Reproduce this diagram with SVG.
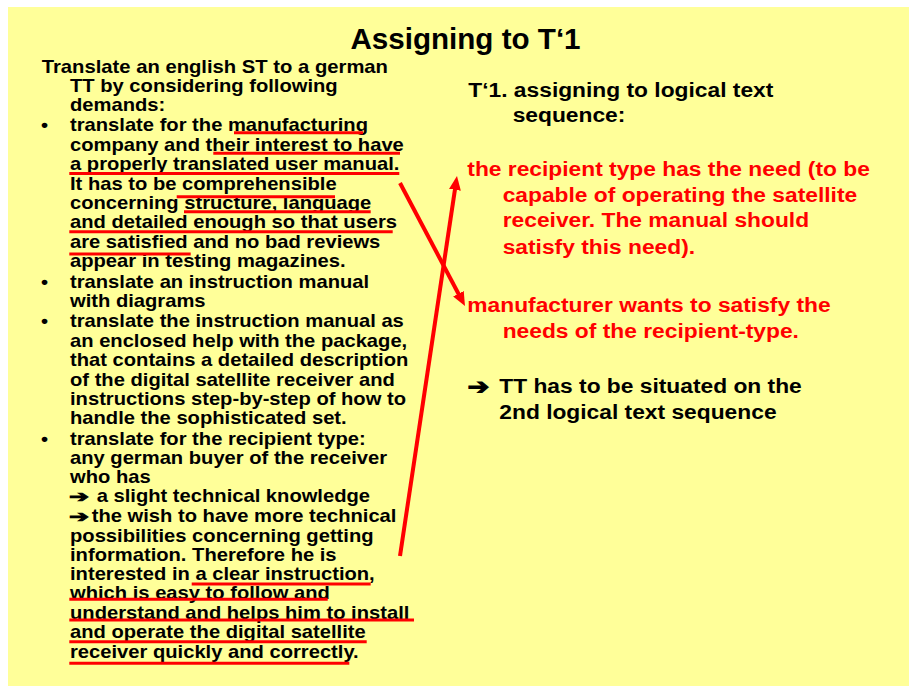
<svg xmlns="http://www.w3.org/2000/svg" width="909" height="686" viewBox="0 0 909 686">
<style>
.bg{fill:#FFFF99}
.t{font-family:"Liberation Sans",Arial,sans-serif;font-weight:bold;fill:#000}
.l{font-size:18px}
.r{font-size:21px}
.red{fill:#FF0000}
.title{font-family:"Liberation Sans",Arial,sans-serif;font-weight:bold;font-size:29.6px;fill:#000}
.sym{font-family:"DejaVu Sans",sans-serif;font-weight:bold;fill:#000;stroke:#000;stroke-width:0.9}
.ul{stroke:#FF0000;stroke-width:3;fill:none}
.conn{stroke:#FF0000;stroke-width:4;fill:none}
</style>
<defs>
<marker id="ah" viewBox="0 0 14 12" markerUnits="userSpaceOnUse" markerWidth="14" markerHeight="12" refX="4" refY="6" orient="auto">
<path d="M0,0 L14,6 L0,12 z" fill="#FF0000"/>
</marker>
</defs>
<rect class="bg" x="8" y="7" width="901" height="679"/>
<g id="title"><text class="title" x="465.5" y="49.3" text-anchor="middle">Assigning to T‘1</text></g>

<g id="left-text">
<text class="t l" transform="translate(41.7,73.3) scale(1.125,1)">Translate an english ST to a german</text>
<text class="t l" transform="translate(70,92) scale(1.12,1)">TT by considering following</text>
<text class="t l" transform="translate(70,111) scale(1.12,1)">demands:</text>
<text class="t l" transform="translate(41,131) scale(1.12,1)">•</text>
<text class="t l" transform="translate(70,131) scale(1.12,1)">translate for the manufacturing</text>
<text class="t l" transform="translate(70,150.7) scale(1.12,1)">company and their interest to have</text>
<text class="t l" transform="translate(70,170) scale(1.12,1)">a properly translated user manual.</text>
<text class="t l" transform="translate(70,190) scale(1.12,1)">It has to be comprehensible</text>
<text class="t l" transform="translate(70,209.3) scale(1.12,1)">concerning structure, language</text>
<text class="t l" transform="translate(70,228.3) scale(1.12,1)">and detailed enough so that users</text>
<text class="t l" transform="translate(70,247.7) scale(1.12,1)">are satisfied and no bad reviews</text>
<text class="t l" transform="translate(70,266.7) scale(1.12,1)">appear in testing magazines.</text>
<text class="t l" transform="translate(41,288.3) scale(1.12,1)">•</text>
<text class="t l" transform="translate(70,288.3) scale(1.12,1)">translate an instruction manual</text>
<text class="t l" transform="translate(70,306.7) scale(1.12,1)">with diagrams</text>
<text class="t l" transform="translate(41,327.3) scale(1.12,1)">•</text>
<text class="t l" transform="translate(70,327.3) scale(1.12,1)">translate the instruction manual as</text>
<text class="t l" transform="translate(70,346.7) scale(1.12,1)">an enclosed help with the package,</text>
<text class="t l" transform="translate(70,366.3) scale(1.12,1)">that contains a detailed description</text>
<text class="t l" transform="translate(70,385.7) scale(1.12,1)">of the digital satellite receiver and</text>
<text class="t l" transform="translate(70,405) scale(1.12,1)">instructions step-by-step of how to</text>
<text class="t l" transform="translate(70,424.3) scale(1.12,1)">handle the sophisticated set.</text>
<text class="t l" transform="translate(41,445) scale(1.12,1)">•</text>
<text class="t l" transform="translate(70,445) scale(1.12,1)">translate for the recipient type:</text>
<text class="t l" transform="translate(70,464) scale(1.12,1)">any german buyer of the receiver</text>
<text class="t l" transform="translate(70,482.5) scale(1.12,1)">who has</text>
<text class="sym" font-size="16" transform="translate(69,502.2) scale(1.5,1)">➔</text>
<text class="t l" transform="translate(96.7,502.3) scale(1.12,1)">a slight technical knowledge</text>
<text class="sym" font-size="16" transform="translate(69,521.6) scale(1.5,1)">➔</text>
<text class="t l" transform="translate(91.7,521.7) scale(1.12,1)">the wish to have more technical</text>
<text class="t l" transform="translate(70,541.5) scale(1.12,1)">possibilities concerning getting</text>
<text class="t l" transform="translate(70,560.7) scale(1.12,1)">information. Therefore he is</text>
<text class="t l" transform="translate(70,580) scale(1.12,1)">interested in a clear instruction,</text>
<text class="t l" transform="translate(70,599) scale(1.12,1)">which is easy to follow and</text>
<text class="t l" transform="translate(70,619) scale(1.12,1)">understand and helps him to install</text>
<text class="t l" transform="translate(70,638.3) scale(1.12,1)">and operate the digital satellite</text>
<text class="t l" transform="translate(70,657.7) scale(1.12,1)">receiver quickly and correctly.</text>
</g>

<g id="underlines">
<line class="ul" x1="234" y1="132.7" x2="363" y2="132.7"/>
<line class="ul" x1="213.3" y1="153.3" x2="400" y2="153.3"/>
<line class="ul" x1="69.3" y1="173.5" x2="399.3" y2="173.5"/>
<line class="ul" x1="176.7" y1="196.7" x2="335" y2="196.7"/>
<line class="ul" x1="184" y1="211.7" x2="370.7" y2="211.7"/>
<line class="ul" x1="69.3" y1="231.7" x2="392.7" y2="231.7"/>
<line class="ul" x1="69.3" y1="254" x2="190.7" y2="254"/>
<line class="ul" x1="191.7" y1="584" x2="370.7" y2="584"/>
<line class="ul" x1="69.3" y1="599.3" x2="327.7" y2="599.3"/>
<line class="ul" x1="69.3" y1="620" x2="414" y2="620"/>
<line class="ul" x1="69.3" y1="641.7" x2="366.7" y2="641.7"/>
<line class="ul" x1="69.3" y1="663.3" x2="349.3" y2="663.3"/>
</g>

<g id="t1-heading">
<text class="t r" transform="translate(468.3,96.7) scale(1.085,1)">T‘1. assigning to logical text</text>
<text class="t r" transform="translate(512.7,121.7) scale(1.085,1)">sequence:</text>
</g>

<g id="recipient-need">
<text class="t r red" transform="translate(467.3,176) scale(1.085,1)">the recipient type has the need (to be</text>
<text class="t r red" transform="translate(502.7,201.7) scale(1.085,1)">capable of operating the satellite</text>
<text class="t r red" transform="translate(502.7,227.3) scale(1.085,1)">receiver. The manual should</text>
<text class="t r red" transform="translate(502.7,254) scale(1.085,1)">satisfy this need).</text>
</g>

<g id="manufacturer-wants">
<text class="t r red" transform="translate(467.3,311.7) scale(1.085,1)">manufacturer wants to satisfy the</text>
<text class="t r red" transform="translate(502.7,338.3) scale(1.085,1)">needs of the recipient-type.</text>
</g>

<g id="conclusion">
<text class="sym" font-size="18" transform="translate(467.5,393.5) scale(1.45,1.2)">➔</text>
<text class="t r" transform="translate(499.3,393.3) scale(1.085,1)">TT has to be situated on the</text>
<text class="t r" transform="translate(499.3,419.3) scale(1.085,1)">2nd logical text sequence</text>
</g>

<g id="connectors">
<line class="conn" x1="400" y1="183" x2="460.3" y2="297.2" marker-end="url(#ah)"/>
<line class="conn" x1="400" y1="556" x2="455.5" y2="185.9" marker-end="url(#ah)"/>
</g>
</svg>
